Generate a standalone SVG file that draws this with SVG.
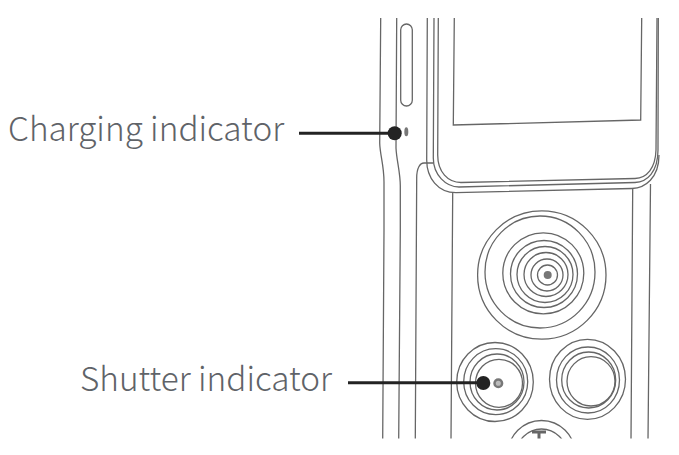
<svg xmlns="http://www.w3.org/2000/svg" width="679" height="455" viewBox="0 0 679 455">
<style>
.l{fill:none;stroke:#666;stroke-width:1.300}
.t{font-family:"Noto Sans CJK SC","Noto Sans",sans-serif;font-weight:300;font-size:33.300px;fill:#5f6368}
.c{fill:none;stroke:#232323;stroke-width:3}
.d{fill:#232323}
</style>
<defs><clipPath id="cp"><rect x="370" y="18" width="300" height="420.500"/></clipPath></defs>
<rect width="679" height="455" fill="#fff"/>
<g id="device" clip-path="url(#cp)">
<path class="l" d="M380.700 18L379.700 143C380 155 384 165 384 182V230L382.700 440"/>
<path class="l" d="M396.700 18L396 148C396.500 160 400.300 172 400.300 186V230L398.700 440"/>
<path class="l" d="M427.300 18L426.700 160C426.700 178 438 192.700 456 192.700L632 188.500C645 188 659 178 659 155"/>
<path class="l" d="M434 18L433.300 158C433.300 175 446 187 459 187L635 182.500C647 182 658 172 658 150L658.300 18"/>
<path class="l" d="M438.300 18L437.700 155C437.700 172 448 182.500 461 182.500L635 178.500C647 178 655.500 168 656 150L657 18"/>
<path class="l" d="M454.300 18L453.300 125L640.700 120L641.700 18"/>
<rect class="l" x="400.700" y="24" width="11.600" height="82" rx="5.800"/>
<path class="l" d="M416.700 178C416.700 168 420 163 424 163H433.300M415.300 440L416.700 178M452.700 193L451 440M632.700 189L631 440M650.500 184L648 440"/>
<ellipse cx="406.300" cy="131.700" rx="2" ry="4.500" fill="#777"/>
<ellipse class="l" cx="541.800" cy="275" rx="64.200" ry="64.200"/>
<ellipse class="l" cx="540" cy="272" rx="55" ry="56"/>
<circle class="l" cx="543.300" cy="273.300" r="40.500"/>
<circle class="l" cx="544" cy="274" r="33.500"/>
<circle class="l" cx="545" cy="274.500" r="28"/>
<circle class="l" cx="546" cy="274.500" r="22"/>
<circle class="l" cx="547" cy="275" r="16"/>
<circle class="l" cx="547.500" cy="275" r="10"/>
<circle cx="547.700" cy="275" r="4" fill="#777"/>
<ellipse class="l" cx="495" cy="382" rx="38.300" ry="39.500"/>
<ellipse class="l" cx="495.700" cy="381.700" rx="32" ry="33"/>
<ellipse class="l" cx="497" cy="382" rx="27" ry="28"/>
<ellipse class="l" cx="499" cy="383.300" rx="23.500" ry="24"/>
<circle cx="498.300" cy="383.300" r="3.800" fill="#bbb" stroke="#777" stroke-width="2.500"/>
<ellipse class="l" cx="587.500" cy="379.300" rx="38" ry="40"/>
<ellipse class="l" cx="588" cy="380" rx="31.500" ry="33"/>
<ellipse class="l" cx="588.700" cy="380" rx="27" ry="28"/>
<ellipse class="l" cx="591" cy="381.300" rx="24" ry="24.700"/>
<circle class="l" cx="541.500" cy="454" r="33.500"/>
<circle class="l" cx="541.500" cy="454" r="25"/>
<path d="M532 432H546M539 432V440" fill="none" stroke="#666" stroke-width="3"/>
</g>
<g id="connectors">
<path class="c" d="M299 133.300H394.700"/>
<circle class="d" cx="394.700" cy="133.300" r="7"/>
<path class="c" d="M348 382.700H483"/>
<circle class="d" cx="483.300" cy="383" r="7"/>
</g>
<g id="labels">
<text class="t" x="8" y="141">Charging indicator</text>
<text class="t" x="80" y="391">Shutter indicator</text>
</g>
</svg>
